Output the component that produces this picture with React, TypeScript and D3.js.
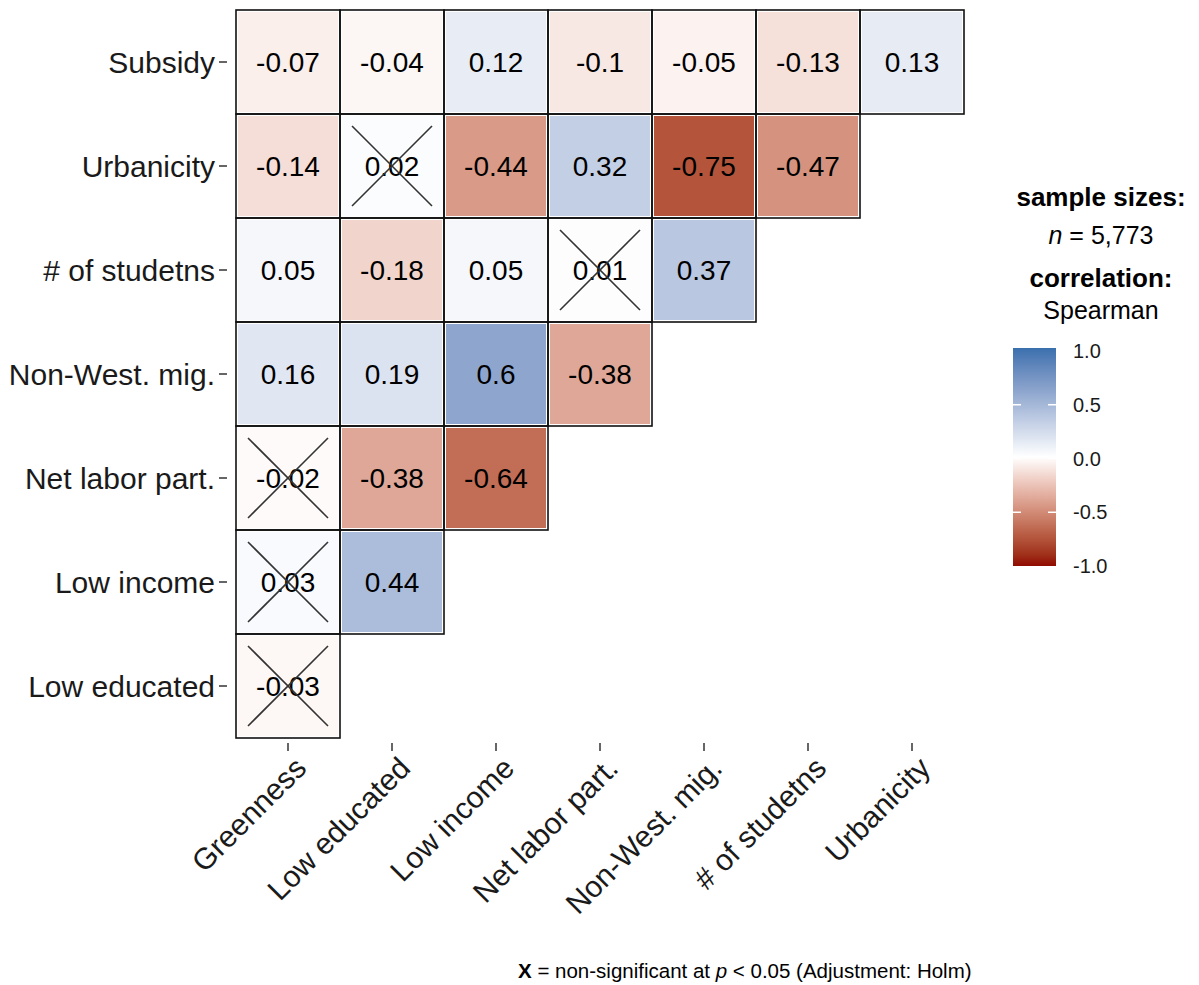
import * as d3 from "d3";

const rowVars = [
  "Subsidy",
  "Urbanicity",
  "# of studetns",
  "Non-West. mig.",
  "Net labor part.",
  "Low income",
  "Low educated",
];
const colVars = [
  "Greenness",
  "Low educated",
  "Low income",
  "Net labor part.",
  "Non-West. mig.",
  "# of studetns",
  "Urbanicity",
];

// lower triangle, one array per row (left to right)
const subsidyRow = [-0.07, -0.04, 0.12, -0.1, -0.05, -0.13, 0.13];
const urbanicityRow = [-0.14, 0.02, -0.44, 0.32, -0.75, -0.47];
const studentsRow = [0.05, -0.18, 0.05, 0.01, 0.37];
const migRow = [0.16, 0.19, 0.6, -0.38];
const laborRow = [-0.02, -0.38, -0.64];
const incomeRow = [0.03, 0.44];
const educatedRow = [-0.03];
const corrRows = [subsidyRow, urbanicityRow, studentsRow, migRow, laborRow, incomeRow, educatedRow];

// [row, col] pairs that are non-significant
const nonSignificant = [
  ["Urbanicity", "Low educated"],
  ["# of studetns", "Net labor part."],
  ["Net labor part.", "Greenness"],
  ["Low income", "Greenness"],
  ["Low educated", "Greenness"],
];

const legendBreaks = [1, 0.5, 0, -0.5, -1];

const font = "'Liberation Sans', Arial, sans-serif";

export default function App() {
  const x = d3.scaleBand().domain(colVars).range([236, 964]);
  const y = d3.scaleBand().domain(rowVars).range([10, 738]);
  const color = d3
    .scaleLinear<string>()
    .domain([-1, 0, 1])
    .range(["#900a00", "#ffffff", "#3a70ae"])
    .interpolate(d3.interpolateLab);

  const cells = corrRows.flatMap((vals, i) =>
    vals.map((v, j) => ({ row: rowVars[i], col: colVars[j], value: v })),
  );
  const isNs = (r: string, c: string) =>
    nonSignificant.some((p) => p[0] === r && p[1] === c);

  const bw = x.bandwidth();
  const bh = y.bandwidth();

  // legend colour bar
  const barX = 1013;
  const barW = 43;
  const ly = d3.scaleLinear().domain([1, -1]).range([351, 566]);
  const stops = d3.range(0, 21).map((i) => -1 + i * 0.1);

  const fmt = (v: number) => String(v);

  return (
    <svg
      width={1199}
      height={985}
      style={{ position: "absolute", left: 0, top: 0, background: "#fff" }}
      fontFamily={font}
    >
      <defs>
        <linearGradient id="bar" x1="0" y1="1" x2="0" y2="0">
          {stops.map((s) => (
            <stop key={s} offset={(s + 1) / 2} stopColor={color(s)} />
          ))}
        </linearGradient>
      </defs>

      {/* tiles */}
      {cells.map((d) => {
        const cx = x(d.col)!;
        const cy = y(d.row)!;
        return (
          <g key={d.row + d.col}>
            <rect
              x={cx + 2}
              y={cy + 2}
              width={bw - 4}
              height={bh - 4}
              fill={color(d.value)}
            />
            <rect
              x={cx}
              y={cy}
              width={bw}
              height={bh}
              fill="none"
              stroke="#111"
              strokeWidth={1.6}
            />
            <text
              x={cx + bw / 2}
              y={cy + bh / 2}
              textAnchor="middle"
              dominantBaseline="central"
              fontSize={28}
              fill="#000"
            >
              {fmt(d.value)}
            </text>
            {isNs(d.row, d.col) && (
              <g stroke="#333" strokeWidth={1.6}>
                <line x1={cx + 12} y1={cy + 12} x2={cx + bw - 12} y2={cy + bh - 12} />
                <line x1={cx + bw - 12} y1={cy + 12} x2={cx + 12} y2={cy + bh - 12} />
              </g>
            )}
          </g>
        );
      })}

      {/* y axis */}
      {rowVars.map((r) => {
        const cy = y(r)! + bh / 2;
        return (
          <g key={r}>
            <line x1={219} x2={227} y1={cy} y2={cy} stroke="#333" strokeWidth={1.5} />
            <text
              x={215}
              y={cy}
              textAnchor="end"
              dominantBaseline="central"
              fontSize={30}
              fill="#1a1a1a"
            >
              {r}
            </text>
          </g>
        );
      })}

      {/* x axis */}
      {colVars.map((c) => {
        const cx = x(c)! + bw / 2;
        return (
          <g key={c}>
            <line x1={cx} x2={cx} y1={743} y2={751} stroke="#333" strokeWidth={1.5} />
            <text
              transform={`translate(${cx + 20},${770}) rotate(-45)`}
              textAnchor="end"
              fontSize={30}
              fill="#1a1a1a"
            >
              {c}
            </text>
          </g>
        );
      })}

      {/* legend */}
      <g textAnchor="middle" fill="#000">
        <text x={1101} y={206} fontSize={26} fontWeight="bold">
          sample sizes:
        </text>
        <text x={1101} y={244} fontSize={25}>
          <tspan fontStyle="italic">n</tspan> = 5,773
        </text>
        <text x={1101} y={287} fontSize={26} fontWeight="bold">
          correlation:
        </text>
        <text x={1101} y={319} fontSize={25}>
          Spearman
        </text>
      </g>
      <rect x={barX} y={348} width={barW} height={218} fill="url(#bar)" />
      {legendBreaks.slice(1, 4).map((b) => (
        <g key={b}>
          <line x1={barX} x2={barX + 8} y1={ly(b)} y2={ly(b)} stroke="#fff" strokeWidth={1.5} />
          <line x1={barX + barW - 8} x2={barX + barW} y1={ly(b)} y2={ly(b)} stroke="#fff" strokeWidth={1.5} />
        </g>
      ))}
      {legendBreaks.map((b) => (
        <text
          key={b}
          x={1073}
          y={ly(b)}
          dominantBaseline="central"
          fontSize={20}
          fill="#1a1a1a"
        >
          {d3.format(".1f")(b).replace("−", "-")}
        </text>
      ))}

      {/* caption */}
      <text x={518} y={978} fontSize={20.5} fill="#000">
        <tspan fontWeight="bold">X</tspan> = non-significant at{" "}
        <tspan fontStyle="italic">p</tspan> &lt; 0.05 (Adjustment: Holm)
      </text>
    </svg>
  );
}
